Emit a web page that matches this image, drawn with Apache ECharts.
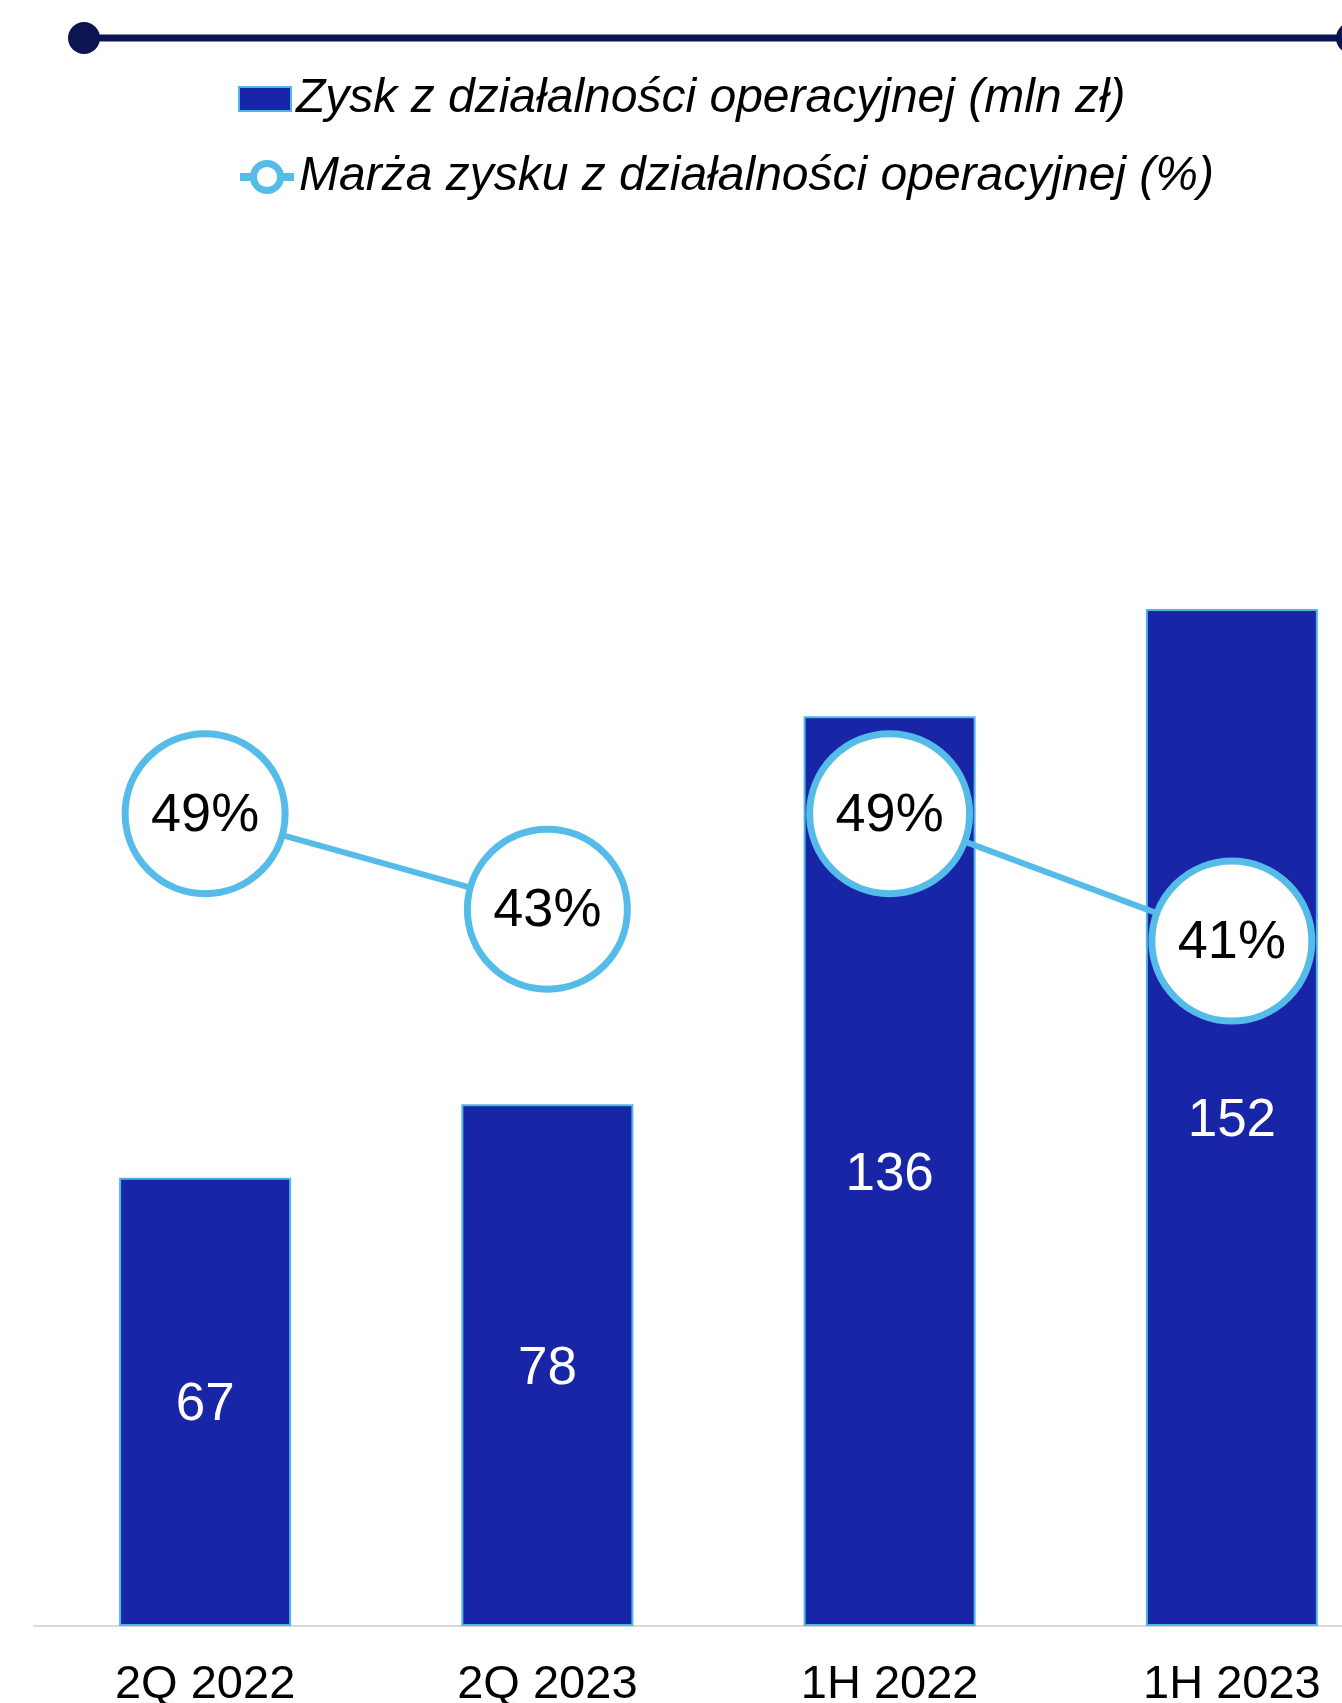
<!DOCTYPE html>
<html>
<head>
<meta charset="utf-8">
<script src="https://cdn.jsdelivr.net/npm/echarts@6/dist/echarts.min.js"></script>
<style>
  html, body { margin: 0; padding: 0; background: #ffffff; }
  #chart { width: 1342px; height: 1703px; }
</style>
</head>
<body>
<div id="chart"></div>
<script>
// Periods shown on the category axis
const categories = ['2Q 2022', '2Q 2023', '1H 2022', '1H 2023'];
// Operating profit, PLN million
const operatingProfit = [67, 78, 136, 152];
// Operating margin, % (quarters and half-years are drawn as separate segments)
const marginQuarters = [49, 43, '-', '-'];
const marginHalfYears = ['-', '-', 49, 41];

const barName = 'Zysk z działalności operacyjnej (mln zł)';
const lineName = 'Marża zysku z działalności operacyjnej (%)';

const BAR_BLUE = '#1725A6';
const EDGE_BLUE = '#4DB8E8';
const LINE_BLUE = '#55BBE8';
const NAVY = '#0C1452';
const FONT = '"Liberation Sans", Arial, sans-serif';

const chart = echarts.init(document.getElementById('chart'), null, { renderer: 'canvas' });

const lineSeries = (data) => ({
  name: lineName,
  type: 'line',
  yAxisIndex: 1,
  data: data,
  connectNulls: false,
  symbol: 'circle',
  symbolSize: 160,
  z: 5,
  lineStyle: { color: LINE_BLUE, width: 6 },
  itemStyle: { color: '#ffffff', borderColor: LINE_BLUE, borderWidth: 7 },
  label: {
    show: true,
    position: 'inside',
    formatter: '{c}%',
    color: '#000000',
    fontSize: 54,
    fontFamily: FONT,
    offset: [0, 2]
  },
  emphasis: { disabled: true }
});

chart.setOption({
  animation: false,
  backgroundColor: '#ffffff',
  textStyle: { fontFamily: FONT },
  graphic: [
    { type: 'line', shape: { x1: 84, y1: 38, x2: 1349, y2: 38 }, style: { stroke: NAVY, lineWidth: 7 } },
    { type: 'circle', shape: { cx: 84, cy: 38, r: 16 }, style: { fill: NAVY } },
    { type: 'circle', shape: { cx: 1352, cy: 38, r: 16 }, style: { fill: NAVY } }
  ],
  legend: [
    {
      data: [{ name: barName, icon: 'rect' }],
      left: 238,
      top: 74,
      padding: 0,
      itemWidth: 52,
      itemHeight: 24,
      selectedMode: false,
      textStyle: { fontSize: 48, fontStyle: 'italic', color: '#000000', fontFamily: FONT, lineHeight: 50 },
      itemStyle: { borderColor: EDGE_BLUE, borderWidth: 2 }
    },
    {
      data: [{ name: lineName }],
      left: 236,
      top: 152,
      padding: 0,
      itemWidth: 54,
      itemHeight: 34,
      selectedMode: false,
      textStyle: { fontSize: 48, fontStyle: 'italic', color: '#000000', fontFamily: FONT, lineHeight: 50 },
      itemStyle: { borderWidth: 7, borderColor: LINE_BLUE, color: '#ffffff' },
      lineStyle: { width: 8, color: LINE_BLUE }
    }
  ],
  grid: { left: 34, width: 1369, top: 288, bottom: 77, containLabel: false, outerBoundsMode: 'none' },
  xAxis: {
    type: 'category',
    data: categories,
    axisLine: { show: true, lineStyle: { color: '#D9D9D9', width: 2 } },
    axisTick: { show: false },
    axisLabel: { color: '#000000', fontSize: 47, fontFamily: FONT, margin: 36, interval: 0 }
  },
  yAxis: [
    { type: 'value', min: 0, max: 200, show: false, splitLine: { show: false } },
    { type: 'value', min: -2, max: 82, show: false, splitLine: { show: false } }
  ],
  series: [
    {
      name: barName,
      type: 'bar',
      data: operatingProfit,
      barWidth: 172,
      z: 2,
      itemStyle: { color: BAR_BLUE, borderColor: EDGE_BLUE, borderWidth: 2 },
      label: {
        show: true,
        position: 'inside',
        color: '#ffffff',
        fontSize: 53,
        fontFamily: FONT,
        offset: [0, 4]
      },
      emphasis: { disabled: true }
    },
    lineSeries(marginQuarters),
    lineSeries(marginHalfYears)
  ]
});
</script>
</body>
</html>
